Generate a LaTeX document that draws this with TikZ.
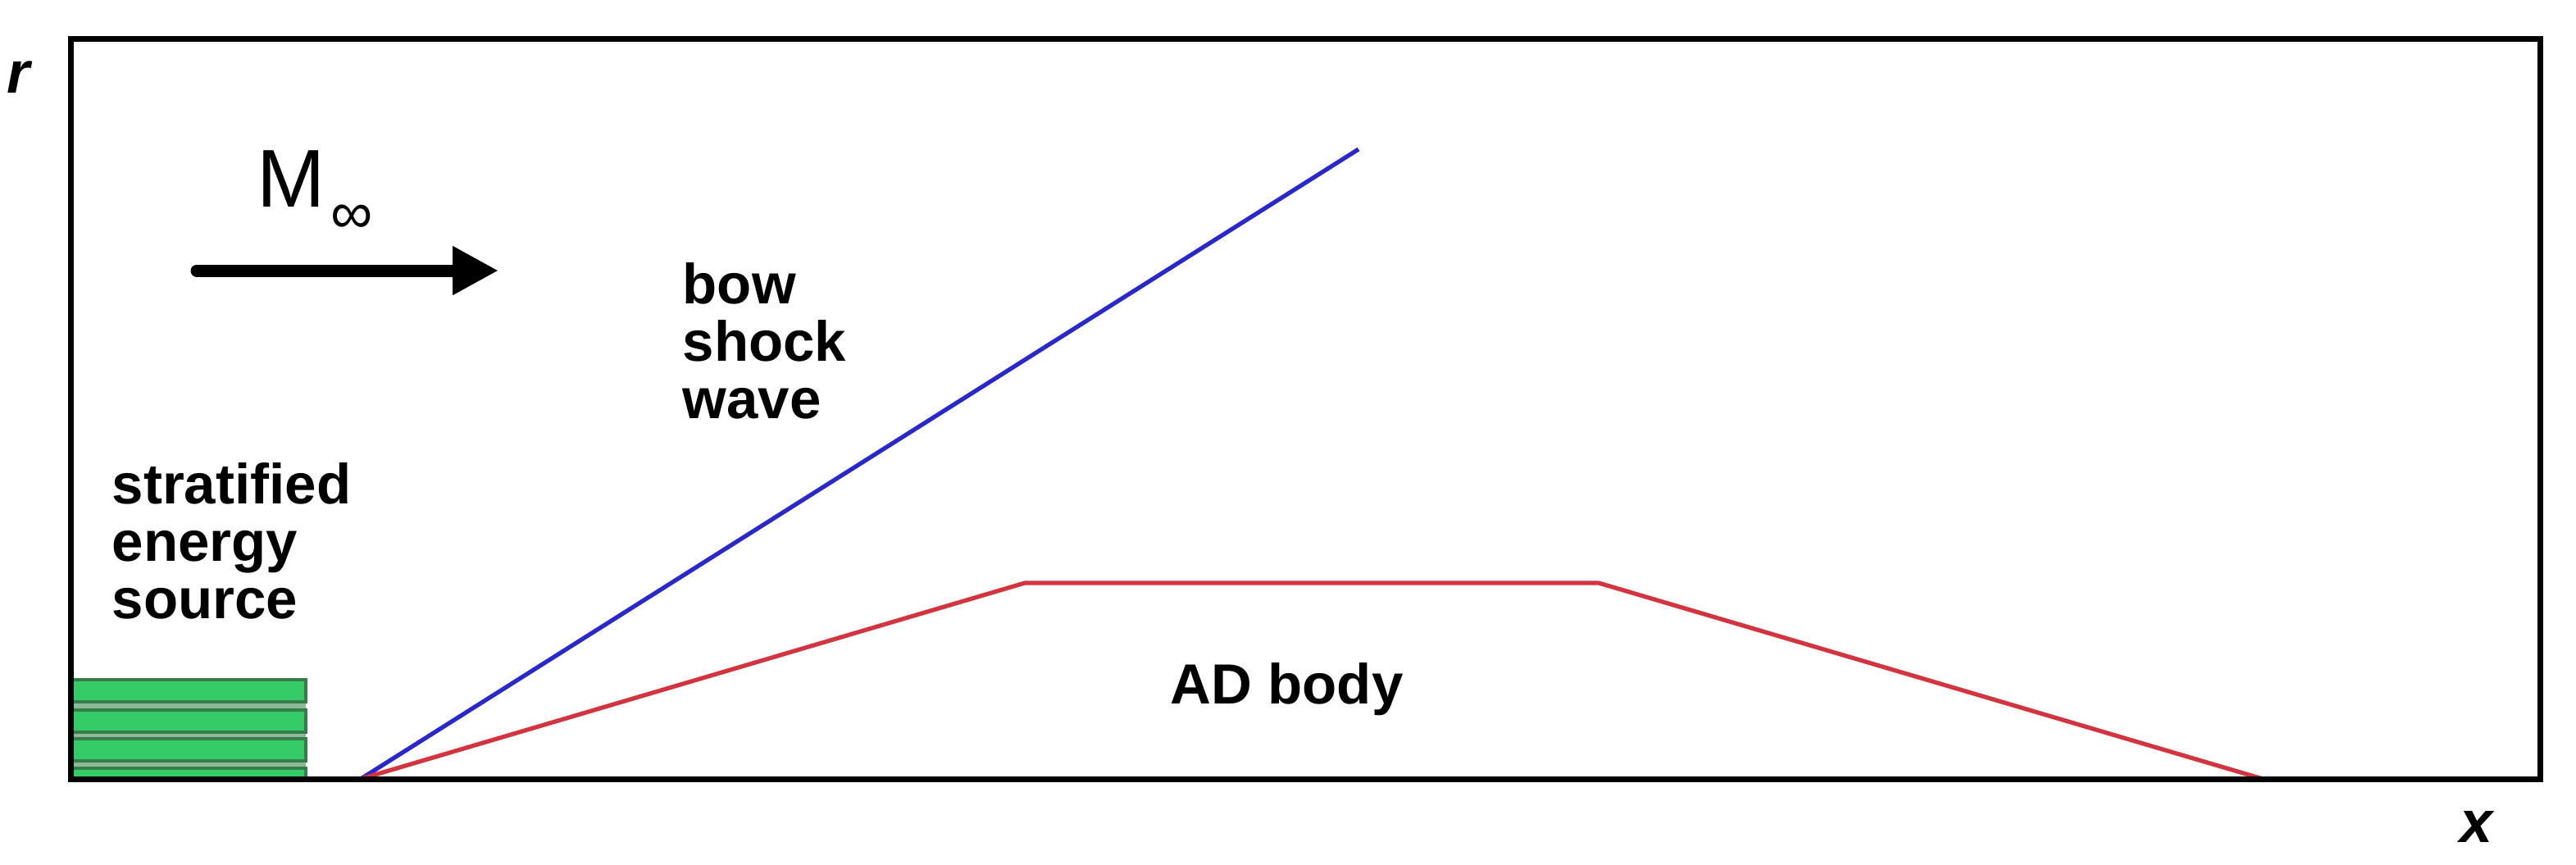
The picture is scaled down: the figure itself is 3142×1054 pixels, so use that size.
\documentclass[tikz,border=0pt]{standalone}
\usepackage{fontspec}
\setmainfont{Liberation Sans}
\usetikzlibrary{arrows.meta}
\definecolor{shockblue}{RGB}{40,40,205}
\definecolor{bodyred}{RGB}{212,52,64}
\definecolor{bargreen}{RGB}{52,204,102}
\definecolor{bardark}{RGB}{55,125,75}
\definecolor{gapgreen}{RGB}{140,185,150}
\begin{document}
\begin{tikzpicture}[x=0.25pt,y=-0.25pt,
  lbl/.style={inner sep=0pt, anchor=base west, font=\fontsize{17.25pt}{18.5pt}\selectfont\bfseries},
  axislbl/.style={inner sep=0pt, anchor=base west, font=\fontsize{18pt}{20pt}\selectfont\bfseries\itshape},
  energybar/.style={fill=bargreen, draw=bardark, line width=1pt},
  frame/.style={draw=black, line width=1.75pt},
  shock/.style={draw=shockblue, line width=1.3pt},
  body/.style={draw=bodyred, line width=1.3pt, line join=miter}]
\useasboundingbox[fill=white] (0,0) rectangle (3142,1054);
% energy source
\fill[gapgreen] (86,827) rectangle (373,950);
\draw[energybar] (86,829) rectangle (373,856);
\draw[energybar] (86,866) rectangle (373,893);
\draw[energybar] (86,901) rectangle (373,928);
\draw[energybar] (86,937) rectangle (373,952);
% lines
\coordinate (nose) at (440,950);
\coordinate (shockend) at (1657,182);
\coordinate (b1) at (1250,711);
\coordinate (b2) at (1950,711);
\coordinate (tail) at (2760,950);
\draw[shock] (nose) -- (shockend);
\draw[body] (nose) -- (b1) -- (b2) -- (tail);
% frame
\draw[frame] (86,47) rectangle (3098,950);
% flow arrow
\coordinate (arrS) at (240,330);
\coordinate (arrE) at (608,330);
\draw[line width=3.75pt, line cap=round, -{Triangle[length=14pt,width=14pt]}] (arrS) -- (arrE);
\node[inner sep=0pt, anchor=base west, font=\fontsize{25pt}{28pt}\selectfont] (mach) at (313,252) {M};
\node[inner sep=0pt, anchor=base west, font=\fontsize{18pt}{20pt}\selectfont] (machsub) at (403,284) {∞};
% labels
\node[lbl] (bow1) at (832,370) {bow};
\node[lbl] (bow2) at (832,440) {shock};
\node[lbl] (bow3) at (832,510) {wave};
\node[lbl] (src1) at (136,614) {stratified};
\node[lbl] (src2) at (136,684) {energy};
\node[lbl] (src3) at (136,754) {source};
\node[lbl] (ad) at (1427,858) {AD body};
\node[axislbl] (rlab) at (8,113) {r};
\node[axislbl] (xlab) at (3000,1027) {x};
\end{tikzpicture}
\end{document}
